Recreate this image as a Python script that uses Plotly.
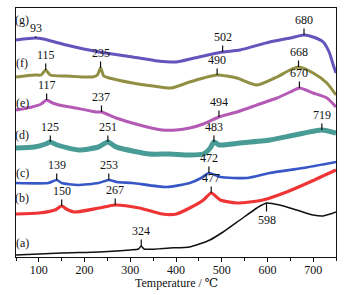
import plotly.graph_objects as go

# Temperatures (°C) and signal heights (arbitrary units, offset per curve)
T_a = [50, 150, 232, 300, 318, 324, 330, 386, 430, 474, 503, 540, 577, 598, 627, 664, 700, 722, 750]
I_a = [2, 4, 5, 7, 8, 11, 8, 9, 10, 17, 25, 37, 49, 54, 52, 47, 42, 41, 45]

T_b = [50, 100, 135, 150, 160, 177, 232, 267, 320, 370, 401, 430, 460, 477, 497, 533, 590, 642, 693, 750]
I_b = [43, 44, 47, 51, 48, 45, 49, 52, 49, 43, 43, 49, 57, 64, 57, 54, 57, 65, 75, 87]

T_c = [50, 120, 139, 150, 185, 230, 253, 270, 305, 379, 430, 455, 472, 497, 555, 605, 678, 750]
I_c = [74, 74, 77, 74, 72, 74, 77, 75, 74, 70, 74, 79, 84, 80, 79, 84, 89, 95]

T_d = [50, 90, 115, 125, 140, 188, 230, 251, 265, 276, 342, 386, 430, 460, 475, 483, 495, 540, 605, 660, 719, 750]
I_d = [109, 110, 113, 115, 112, 107, 110, 115, 111, 109, 103, 103, 102, 103, 109, 115, 112, 114, 117, 122, 127, 124]

T_e = [50, 85, 105, 117, 130, 144, 181, 225, 237, 269, 320, 370, 401, 430, 460, 494, 533, 577, 621, 650, 670, 700, 730, 750]
I_e = [147, 150, 153, 157, 154, 152, 149, 145, 145, 139, 132, 127, 127, 129, 133, 140, 145, 152, 159, 165, 169, 164, 159, 150]

T_f = [50, 90, 105, 115, 125, 160, 217, 228, 235, 242, 254, 305, 350, 390, 430, 460, 490, 533, 577, 621, 645, 668, 700, 730, 750]
I_f = [180, 182, 182, 187, 182, 181, 180, 182, 189, 181, 179, 174, 171, 169, 175, 179, 182, 179, 172, 180, 186, 190, 184, 174, 162]

T_g = [50, 93, 110, 160, 232, 305, 360, 400, 440, 502, 540, 605, 650, 680, 700, 722, 735, 744, 750]
I_g = [217, 219, 218, 212, 205, 200, 196, 195, 199, 205, 207, 215, 219, 222, 220, 215, 205, 192, 184]

series_names = ["(a)", "(b)", "(c)", "(d)", "(e)", "(f)", "(g)"]
series_T = [T_a, T_b, T_c, T_d, T_e, T_f, T_g]
series_I = [I_a, I_b, I_c, I_d, I_e, I_f, I_g]

# Peak temperatures labelled on each curve
peaks_a = [324, 598]
peaks_b = [150, 267, 477]
peaks_c = [139, 253, 472]
peaks_d = [125, 251, 483, 719]
peaks_e = [117, 237, 494, 670]
peaks_f = [115, 235, 490, 668]
peaks_g = [93, 502, 680]
series_peaks = [peaks_a, peaks_b, peaks_c, peaks_d, peaks_e, peaks_f, peaks_g]

x_ticks = [100, 200, 300, 400, 500, 600, 700]

colors = ["#111111", "#ee2a2a", "#2d4fc4", "#2a8a84", "#b052b2", "#8c8a3a", "#5a4cb8"]
widths = [1.5, 3.2, 2.6, 5.0, 3.0, 3.0, 3.0]
opac = [1, 0.95, 0.95, 0.85, 0.95, 0.95, 0.95]
name_y = [14, 59, 84, 122, 154, 194, 237]
label_off = {598: 17, 93: -10}

fig = go.Figure()
for T, I, c, w, o in zip(series_T, series_I, colors, widths, opac):
    fig.add_trace(go.Scatter(x=T, y=I, mode="lines", opacity=o,
                             line=dict(color=c, width=w, shape="spline", smoothing=0.6),
                             showlegend=False, hoverinfo="skip"))

font = dict(family="Liberation Serif, Times New Roman, serif", size=12, color="#111111")
title_font = dict(family="Liberation Serif, DejaVu Serif, DejaVu Sans, serif", size=12, color="#111111")
annotations = []
for T, I, pk in zip(series_T, series_I, series_peaks):
    for p in pk:
        yv = I[T.index(p)]
        annotations.append(dict(x=p, y=yv, xref="x", yref="y", text=str(p),
                                showarrow=True, arrowhead=0, arrowwidth=1.2,
                                arrowcolor="#111111", ax=0,
                                ay=label_off.get(p, -15),
                                standoff=0, font=font))
for name, yv in zip(series_names, name_y):
    annotations.append(dict(x=64, y=yv, xref="x", yref="y", text=name,
                            showarrow=False, font=font))
annotations.append(dict(x=0.5, y=-0.106, xref="paper", yref="paper",
                        text="Temperature / ℃", showarrow=False, font=title_font,
                        xanchor="center", yanchor="middle", borderpad=0))

fig.update_layout(
    width=351, height=295,
    margin=dict(l=16, r=15, t=8, b=38),
    paper_bgcolor="white", plot_bgcolor="white",
    hovermode=False,
    annotations=annotations,
    xaxis=dict(range=[50, 750], tickvals=x_ticks, ticks="outside", ticklen=4,
               tickcolor="#111111", tickfont=font, ticklabelstandoff=-3,
               minor=dict(dtick=50, tick0=50, ticks="outside", ticklen=3, tickcolor="#111111"),
               showline=True, linecolor="#111111", linewidth=1.2, mirror=True,
               showgrid=False, zeroline=False),
    yaxis=dict(range=[0, 249], showticklabels=False, ticks="",
               showline=True, linecolor="#111111", linewidth=1.2, mirror=True,
               showgrid=False, zeroline=False),
)
fig.write_html("out.html", config={"displayModeBar": False},
               post_script="document.body.style.margin='0';document.body.style.overflow='hidden';")
